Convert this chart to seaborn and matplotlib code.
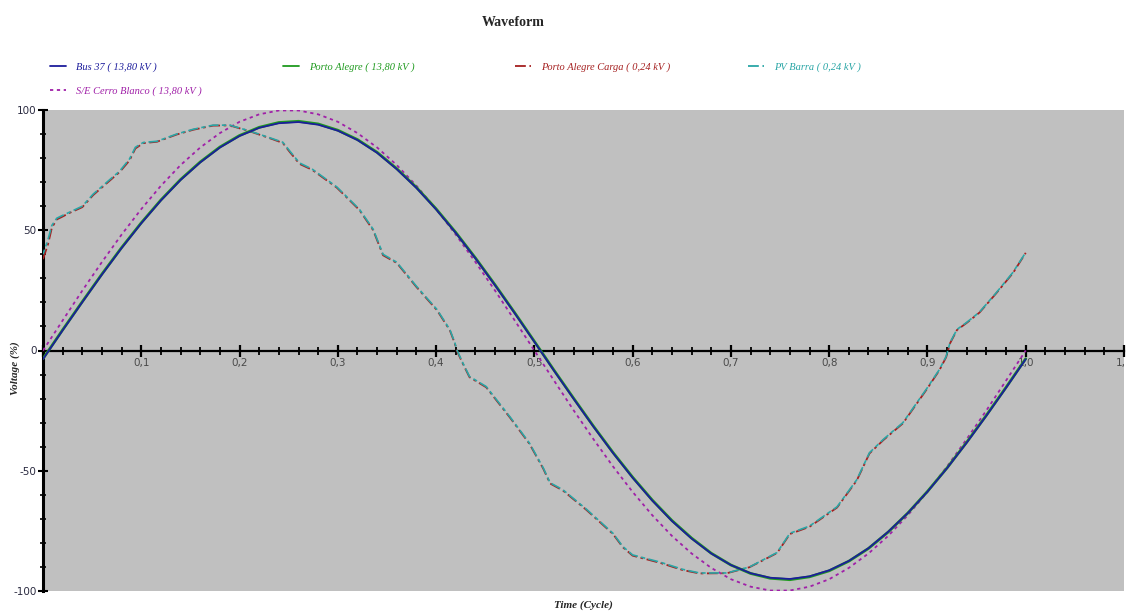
import numpy as np
import pandas as pd
import matplotlib
matplotlib.use("Agg")
import matplotlib.pyplot as plt
from matplotlib.ticker import MultipleLocator, FuncFormatter
from matplotlib.lines import Line2D
import seaborn as sns

# ---------------- data ----------------
t_sine = [0.00, 0.02, 0.04, 0.06, 0.08, 0.10, 0.12, 0.14, 0.16, 0.18,
          0.20, 0.22, 0.24, 0.26, 0.28, 0.30, 0.32, 0.34, 0.36, 0.38,
          0.40, 0.42, 0.44, 0.46, 0.48, 0.50, 0.52, 0.54, 0.56, 0.58,
          0.60, 0.62, 0.64, 0.66, 0.68, 0.70, 0.72, 0.74, 0.76, 0.78,
          0.80, 0.82, 0.84, 0.86, 0.88, 0.90, 0.92, 0.94, 0.96, 0.98, 1.00]

bus37 = [-3.6, 8.4, 20.1, 31.6, 42.6, 52.9, 62.4, 70.9, 78.2, 84.4,
         89.2, 92.6, 94.5, 95.0, 93.9, 91.4, 87.5, 82.2, 75.4, 67.6,
         58.7, 48.9, 38.3, 27.1, 15.5, 3.6, -8.4, -20.1, -31.6, -42.6,
         -52.9, -62.4, -70.9, -78.2, -84.4, -89.2, -92.6, -94.5, -95.0, -93.9,
         -91.4, -87.5, -82.2, -75.4, -67.6, -58.7, -48.9, -38.3, -27.1, -15.5, -3.6]

porto_alegre = [-3.4, 8.6, 20.3, 31.8, 42.8, 53.1, 62.6, 71.1, 78.4, 84.6,
                89.4, 92.8, 94.8, 95.3, 94.2, 91.6, 87.7, 82.4, 75.6, 67.8,
                58.9, 49.1, 38.5, 27.3, 15.7, 3.8, -8.2, -19.9, -31.4, -42.4,
                -52.7, -62.2, -70.7, -78.0, -84.3, -89.2, -92.7, -94.7, -95.3, -94.1,
                -91.6, -87.6, -82.3, -75.5, -67.6, -58.6, -48.8, -38.1, -26.9, -15.3, -3.4]

cerro_blanco = [0.0, 12.5, 24.9, 36.8, 48.2, 58.8, 68.5, 77.1, 84.4, 90.4,
                95.1, 98.2, 99.8, 99.8, 98.2, 95.1, 90.4, 84.4, 77.1, 68.5,
                58.8, 48.2, 36.8, 24.9, 12.5, 0.0, -12.5, -24.9, -36.8, -48.2,
                -58.8, -68.5, -77.1, -84.4, -90.4, -95.1, -98.2, -99.8, -99.8, -98.2,
                -95.1, -90.4, -84.4, -77.1, -68.5, -58.8, -48.2, -36.8, -24.9, -12.5, 0.0]

t_dist = [0.0, 0.005, 0.009, 0.014, 0.019, 0.027, 0.04, 0.051, 0.065, 0.078,
          0.088, 0.094, 0.102, 0.116, 0.136, 0.153, 0.173, 0.19, 0.21, 0.234,
          0.244, 0.251, 0.261, 0.274, 0.299, 0.322, 0.336, 0.346, 0.36, 0.38,
          0.401, 0.414, 0.419, 0.421, 0.427, 0.434, 0.451, 0.475, 0.495, 0.509,
          0.516, 0.529, 0.553, 0.58, 0.59, 0.6, 0.628, 0.651, 0.668, 0.696,
          0.719, 0.747, 0.76, 0.78, 0.808, 0.828, 0.841, 0.855, 0.875, 0.899,
          0.912, 0.919, 0.923, 0.93, 0.94, 0.953, 0.97, 0.987, 1.0]

pv_barra = [40, 46, 52, 55, 56, 57.5, 60, 65, 70, 74.6,
            79.6, 84.5, 86.5, 87, 90, 92, 93.7, 93.7, 91.3, 88,
            86.6, 83, 78, 75.4, 68, 58.7, 50.4, 40, 36.7, 26.7,
            17, 8.7, 3.3, 0.4, -5, -10.8, -15, -27.5, -38.5, -48.8,
            -55, -57.9, -66, -76, -81.5, -85, -88, -91, -92.5, -92.5,
            -90, -84, -76, -73, -65, -53.8, -42.5, -37, -30, -16,
            -8, -2.5, 3.3, 8.75, 11.7, 16, 24, 32.5, 40.8]

pa_carga = [38, 44, 51, 54.5, 55.5, 57.2, 59.6, 64.6, 69.6, 74.2,
            79.0, 84.0, 86.2, 86.8, 89.8, 91.8, 93.5, 93.6, 91.2, 87.8,
            86.3, 82.6, 77.6, 75.1, 67.7, 58.4, 50.0, 39.6, 36.4, 26.4,
            16.7, 8.4, 3.0, 0.0, -5.3, -11.1, -15.3, -27.8, -38.8, -49.1,
            -55.3, -58.2, -66.3, -76.3, -81.8, -85.3, -88.3, -91.3, -92.7, -92.6,
            -90.1, -84.2, -76.3, -73.3, -65.3, -54.1, -42.8, -37.3, -30.3, -16.3,
            -8.3, -2.8, 3.0, 8.5, 11.5, 15.8, 23.8, 32.2, 40.6]

labels = ["Bus 37 ( 13,80 kV )", "Porto Alegre ( 13,80 kV )",
          "Porto Alegre Carga ( 0,24 kV )", "PV Barra ( 0,24 kV )",
          "S/E Cerro Blanco ( 13,80 kV )"]

y_ticks = [-100, -50, 0, 50, 100]

# ---------------- styling ----------------
sns.set_style("white")
plt.rcParams["font.family"] = ["DejaVu Sans"]

W, H = 1126, 615
fig = plt.figure(figsize=(W / 100, H / 100), dpi=100)
ax = fig.add_axes([43 / W, 1 - 591 / H, 1081 / W, (591 - 110) / H])
ax.set_facecolor("#C0C0C0")

c_bus = "#1c1c9c"
c_pa = "#1f9a1f"
c_carga = "#a52020"
c_pv = "#2aa6a6"
c_cb = "#a020a8"

dash_carga = (6, 2, 1.5, 2)
dash_pv = (6, 2, 2.5, 2)
dash_cb = (1.8, 2)

df_sine = pd.DataFrame({"t": t_sine, "bus": bus37, "pa": porto_alegre, "cb": cerro_blanco})
df_dist = pd.DataFrame({"t": t_dist, "pv": pv_barra, "carga": pa_carga})

sns.lineplot(data=df_sine, x="t", y="cb", ax=ax, color=c_cb, lw=1.3,
             linestyle=(0, dash_cb), zorder=3)
sns.lineplot(data=df_sine, x="t", y="pa", ax=ax, color=c_pa, lw=2.0, zorder=4)
sns.lineplot(data=df_sine, x="t", y="bus", ax=ax, color=c_bus, lw=1.3, zorder=5)
sns.lineplot(data=df_dist, x="t", y="carga", ax=ax, color=c_carga, lw=1.3,
             linestyle=(0, dash_carga), zorder=3)
sns.lineplot(data=df_dist, x="t", y="pv", ax=ax, color=c_pv, lw=1.2,
             linestyle=(3, dash_pv), zorder=3)

ax.set_xlim(0, 1.1)
ax.set_ylim(-100, 100)
ax.set_xlabel("")
ax.set_ylabel("")

for s in ["top", "right"]:
    ax.spines[s].set_visible(False)
ax.spines["bottom"].set_position(("data", 0))
ax.spines["bottom"].set_linewidth(1.6)
ax.spines["bottom"].set_color("black")
ax.spines["left"].set_linewidth(2.2)
ax.spines["left"].set_color("black")
ax.spines["bottom"].set_zorder(2)

ax.xaxis.set_major_locator(MultipleLocator(0.1))
ax.xaxis.set_minor_locator(MultipleLocator(0.02))
ax.set_yticks(y_ticks)
ax.yaxis.set_minor_locator(MultipleLocator(10))

def xfmt(v, pos):
    if abs(v) < 1e-9:
        return ""
    return f"{v:.1f}".replace(".", ",")

ax.xaxis.set_major_formatter(FuncFormatter(xfmt))
ax.yaxis.set_major_formatter(FuncFormatter(lambda v, p: f"{int(v)}"))

ax.tick_params(axis="x", which="major", direction="inout", length=9, width=1.6,
               colors="black", labelcolor="#4a4a4a", labelsize=7.5, pad=1,
               bottom=True)
ax.tick_params(axis="x", which="minor", direction="inout", length=6, width=1.3,
               colors="black", bottom=True)
ax.tick_params(axis="y", which="major", direction="inout", length=7, width=1.5,
               colors="black", labelcolor="#2a2a40", labelsize=7.5, pad=1, left=True)
ax.tick_params(axis="y", which="minor", direction="inout", length=5, width=1.2,
               colors="black", left=True)

# ---------------- titles & labels ----------------
serif = ["Liberation Serif", "DejaVu Serif"]
fig.text(513 / W, 1 - 22 / H, "Waveform", ha="center", va="center",
         family=serif, fontsize=10, fontweight="bold")
fig.text(583 / W, 1 - 605 / H, "Time (Cycle)", ha="center", va="center",
         family=serif, fontsize=8, fontweight="bold", style="italic")
fig.text(15 / W, 1 - 368 / H, "Voltage (%)", ha="center", va="center",
         family=serif, fontsize=8, fontweight="bold", style="italic", rotation=90)

# ---------------- legend ----------------
styles = {
    labels[0]: (c_bus, None),
    labels[1]: (c_pa, None),
    labels[2]: (c_carga, dash_carga),
    labels[3]: (c_pv, dash_pv),
    labels[4]: (c_cb, dash_cb),
}
positions = [(50, 67), (283, 67), (515, 67), (748, 67), (50, 91)]
for lab, (px, py) in zip(labels, positions):
    col, dash = styles[lab]
    h = Line2D([0], [0], color=col, lw=1.3)
    if dash is not None:
        h.set_dashes(dash)
    leg = fig.legend(handles=[h], labels=[lab], loc="center left",
                     bbox_to_anchor=(px / W, 1 - py / H), frameon=False,
                     borderpad=0, borderaxespad=0, handlelength=1.5,
                     handletextpad=1.0,
                     prop={"family": serif, "style": "italic", "size": 7.5})
    for txt in leg.get_texts():
        txt.set_color(col)

fig.savefig("out.png", dpi=100)
